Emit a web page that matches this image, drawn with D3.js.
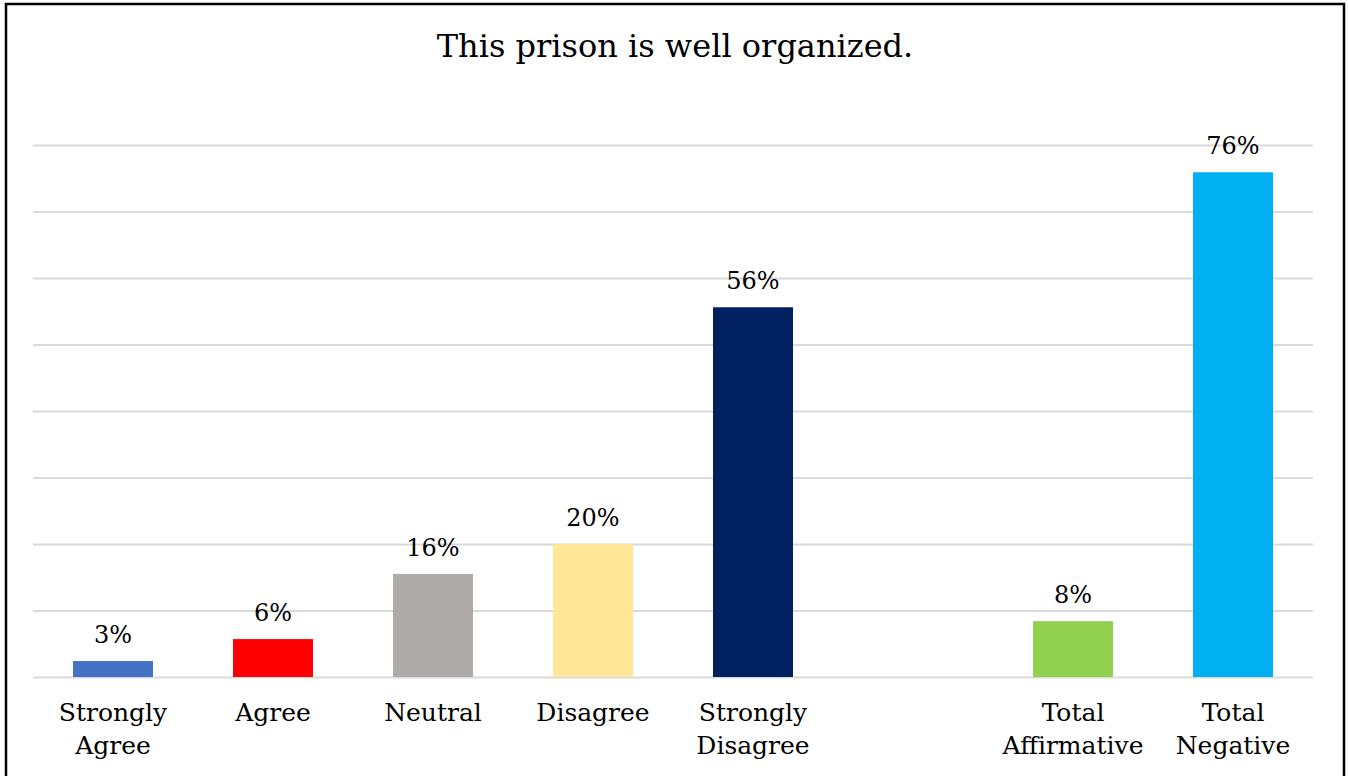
<!DOCTYPE html>
<html>
<head>
<meta charset="utf-8">
<script src="https://cdn.jsdelivr.net/npm/d3@7"></script>
<style>
  html, body { margin: 0; padding: 0; background: #fff; }
  svg { display: block; }
  text { font-family: "DejaVu Serif", Georgia, serif; fill: #000; }
</style>
</head>
<body>
<svg id="chart" width="1348" height="776"></svg>
<script>
const title = "This prison is well organized.";
const categories = ["Strongly Agree", "Agree", "Neutral", "Disagree", "Strongly Disagree", "Total Affirmative", "Total Negative"];
const values = [2.4, 5.7, 15.5, 20.0, 55.6, 8.4, 75.9];
const valueLabels = ["3%", "6%", "16%", "20%", "56%", "8%", "76%"];
const colors = ["#4472C4", "#FF0000", "#AEAAAA", "#FFE699", "#002060", "#92D050", "#00B0F0"];
const gridTicks = [0, 10, 20, 30, 40, 50, 60, 70, 80];

const svg = d3.select("#chart");
const W = 1348, H = 776;
const margin = { left: 33, right: 35, top: 145, bottom: 99 };

// frame
svg.append("rect")
  .attr("x", 6).attr("y", 4)
  .attr("width", 1338).attr("height", 800)
  .attr("fill", "none").attr("stroke", "#000").attr("stroke-width", 2.5);

const gapKey = "__gap__";
const domain = [...categories.slice(0, 5), gapKey, ...categories.slice(5)];

const x = d3.scaleBand()
  .domain(domain)
  .range([margin.left, W - margin.right])
  .paddingInner(0.5).paddingOuter(0.25);

const y = d3.scaleLinear()
  .domain([0, 80])
  .range([H - margin.bottom, margin.top]);

// gridlines
const yAxis = d3.axisLeft(y).tickValues(gridTicks)
  .tickSize(-(W - margin.right - margin.left)).tickFormat("");
const gy = svg.append("g")
  .attr("transform", `translate(${margin.left},0)`)
  .call(yAxis);
gy.select(".domain").remove();
gy.selectAll(".tick line").attr("stroke", "#d9d9d9").attr("stroke-width", 2);

// title
svg.append("text")
  .attr("x", (margin.left + W - margin.right) / 2 + 2)
  .attr("y", 57)
  .attr("text-anchor", "middle")
  .style("font-size", "32px")
  .text(title);

const data = categories.map((c, i) => ({ c, v: values[i], label: valueLabels[i], color: colors[i] }));

// bars
svg.append("g").selectAll("rect")
  .data(data).join("rect")
  .attr("x", d => x(d.c))
  .attr("y", d => y(d.v))
  .attr("width", x.bandwidth())
  .attr("height", d => y(0) - y(d.v))
  .attr("fill", d => d.color);

// value labels
svg.append("g").selectAll("text")
  .data(data).join("text")
  .attr("x", d => x(d.c) + x.bandwidth() / 2)
  .attr("y", d => y(d.v) - 18)
  .attr("text-anchor", "middle")
  .style("font-size", "24px")
  .text(d => d.label);

// category labels via bottom axis
const xAxis = d3.axisBottom(x).tickSize(0).tickFormat(d => d === gapKey ? "" : d);
const gx = svg.append("g")
  .attr("transform", `translate(0,${y(0)})`)
  .call(xAxis);
gx.select(".domain").remove();
gx.selectAll(".tick text").each(function(d) {
  const t = d3.select(this);
  const words = d === gapKey ? [] : d.split(" ");
  t.text(null)
    .attr("y", 0).attr("dy", null)
    .attr("fill", "#000")
    .style("font-family", '"DejaVu Serif", Georgia, serif')
    .style("font-size", "25px");
  words.forEach((w, i) => {
    t.append("tspan").attr("x", 0).attr("y", 44 + i * 33).text(w);
  });
});
</script>
</body>
</html>
